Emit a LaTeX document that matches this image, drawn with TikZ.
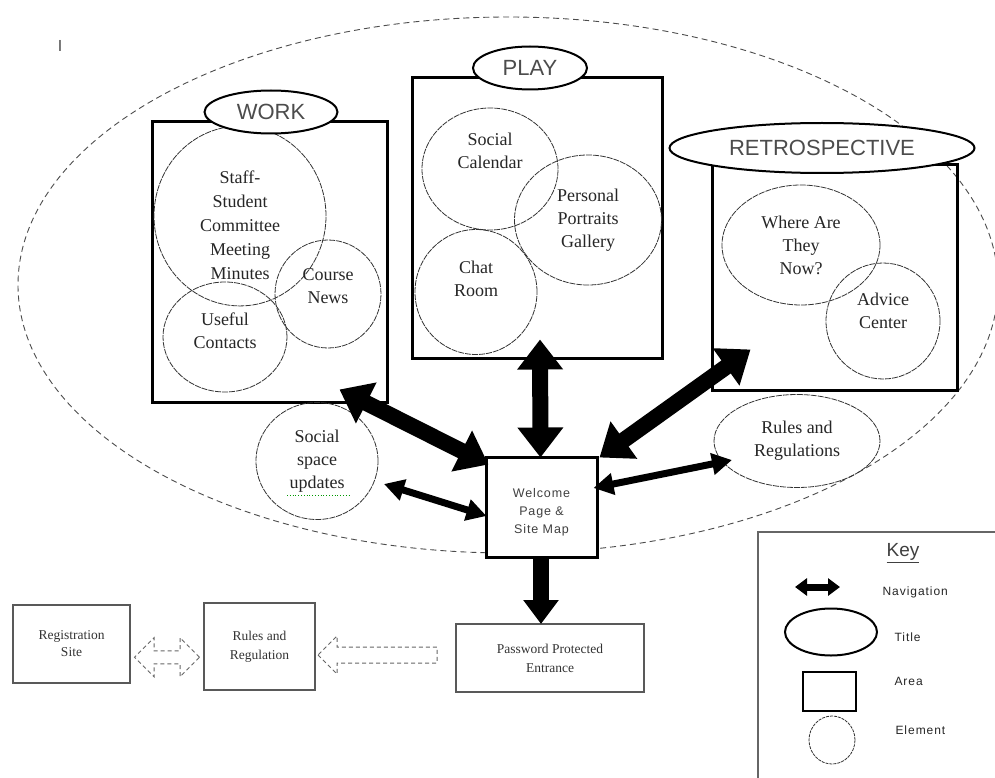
\documentclass[tikz,border=0pt]{standalone}
\usepackage{fontspec}
\setmainfont{Liberation Serif}
\setsansfont{Liberation Sans}
\usetikzlibrary{shapes.geometric,shapes.arrows,arrows.meta,calc}
\begin{document}
\begin{tikzpicture}[x=1pt,y=-1pt,
  area/.style={draw, line width=3pt, inner sep=0pt},
  titl/.style={ellipse, draw, line width=2pt, fill=white, inner sep=0pt, font=\sffamily\fontsize{22}{26}\selectfont, text=black!70},
  elem/.style={ellipse, draw=black!80, line width=0.8pt, dash pattern=on 6pt off 1pt, inner sep=0pt, align=center, text=black!85, font=\fontsize{18}{23}\selectfont},
  bignav/.style={line width=16pt, {Triangle[length=30pt,width=44pt]}-{Triangle[length=30pt,width=44pt]}},
  smallnav/.style={line width=7pt, {Triangle[length=20pt,width=21pt]}-{Triangle[length=20pt,width=21pt]}},
  downnav/.style={line width=16pt, -{Triangle[length=24pt,width=34pt]}},
  lowbox/.style={draw=black!65, line width=1.2pt, inner sep=0pt, align=center, text=black!80, font=\fontsize{13.5}{19}\selectfont},
  hollow/.style={draw=black!60, line width=1pt, dash pattern=on 4pt off 3pt, inner xsep=0pt},
  keylab/.style={anchor=west, font=\sffamily\fontsize{12}{14}\selectfont\addfontfeature{LetterSpace=8}, text=black!85},
]
\useasboundingbox (0,0) rectangle (995,778);
\clip (0,0) rectangle (995,778);
\fill[white] (0,0) rectangle (995,778);

% outer dashed ellipse
\draw[black!70, line width=0.9pt, dash pattern=on 6pt off 4pt] (508,285) ellipse [x radius=490, y radius=268];

\node[font=\sffamily\fontsize{16}{18}\selectfont, text=black!70] (cursor) at (60,46) {I};

% areas
\node[area, minimum width=235pt, minimum height=280pt] (work) at (269.5,262) {};
\node[area, minimum width=250pt, minimum height=280pt] (play) at (537,218) {};
\node[area, minimum width=245pt, minimum height=225pt] (retro) at (834.5,277.5) {};

% elements WORK
\node[elem, minimum width=172pt, minimum height=168pt, font=\fontsize{18}{24}\selectfont] (staff) at (240,216) {\rule{0pt}{31pt}Staff-\\Student\\Committee\\Meeting\\Minutes};
\node[elem, minimum width=106pt, minimum height=108pt] (course) at (328,294) {Course\\News\\[-7pt]};
\node[elem, minimum width=124pt, minimum height=110pt] (useful) at (225,337) {Useful\\Contacts\\[-10pt]};
% elements PLAY
\node[elem, minimum width=136pt, minimum height=122pt] (socialcal) at (490,169) {Social\\Calendar\\[14pt]};
\node[elem, minimum width=147pt, minimum height=130pt] (portraits) at (588,220) {Personal\\Portraits\\Gallery};
\node[elem, minimum width=122pt, minimum height=125pt] (chat) at (476,292) {Chat\\Room\\[4pt]};
% elements RETRO
\node[elem, minimum width=158pt, minimum height=120pt] (where) at (801,245) {Where Are\\They\\Now?};
\node[elem, minimum width=114pt, minimum height=116pt] (advice) at (883,321) {Advice\\Center\\[-2pt]};
% other elements
\node[elem, minimum width=166pt, minimum height=93pt] (rulesel) at (797,441) {Rules and\\Regulations};
\node[elem, minimum width=122pt, minimum height=117pt] (socialspace) at (317,461) {Social\\space\\updates};
\draw[green!60!black, line width=0.8pt, dotted] ($(socialspace.center)+(-30,34)$) -- ($(socialspace.center)+(33,34)$);

% titles
\node[titl, minimum width=133pt, minimum height=43pt] (worktitle) at (271,112) {WORK};
\node[titl, minimum width=114pt, minimum height=43pt] (playtitle) at (530,68) {PLAY};
\node[titl, minimum width=305pt, minimum height=50pt] (retrotitle) at (822,148) {RETROSPECTIVE};

% welcome
\node[area, fill=white, minimum width=111pt, minimum height=100pt, align=center, text=black!75, font=\sffamily\fontsize{12.5}{18}\selectfont\addfontfeature{LetterSpace=7}] (welcome) at (541.5,507) {\rule{0pt}{20pt}Welcome\\Page \&\\Site Map};

% navigation arrows
\draw[bignav] ($(work.south east)+(-49,-14)$) -- ($(welcome.north west)+(4,9)$);
\draw[bignav] ($(play.south)+(3,-20)$) -- ($(welcome.north)+(-1,2)$);
\draw[bignav] ($(retro.south west)+(40,-42)$) -- ($(welcome.north east)+(1,2)$);
\draw[smallnav] ($(socialspace.center)+(67,23)$) -- ($(welcome.west)+(2,9)$);
\draw[smallnav] ($(welcome.east)+(-5,-19)$) -- ($(rulesel.center)+(-65,19)$);

% lower boxes
\node[lowbox, minimum width=188pt, minimum height=68pt] (password) at (550,658) {Password Protected\\Entrance};
\node[lowbox, minimum width=111pt, minimum height=87pt] (rulesreg) at (259.5,646.5) {Rules and\\Regulation};
\node[lowbox, minimum width=117pt, minimum height=78pt, font=\fontsize{13.5}{17}\selectfont] (reg) at (71.5,644) {Registration\\Site};
\draw[downnav] (welcome.south -| 541,0) -- (541,624);

% hollow dashed arrows
\node[hollow, single arrow, shape border rotate=180, minimum height=119pt, inner ysep=7.5pt, single arrow head extend=11pt] (navback) at (381.5,655) {};
\node[hollow, double arrow, minimum height=65pt, inner ysep=6pt, double arrow head extend=13pt] (navreg) at ($(reg.east)!0.5!(rulesreg.west)+(0,12)$) {};

% key
\node[draw=black!60, line width=1.2pt, minimum width=252pt, minimum height=268pt, inner sep=0pt] (keybox) at (884,666) {};
\node[font=\sffamily\fontsize{19}{21}\selectfont, text=black!75] (keytitle) at (903,553) {\underline{Key}};
\coordinate (navL) at (795,587);
\coordinate (navR) at (840,587);
\draw[line width=7pt, {Triangle[length=12pt,width=17pt]}-{Triangle[length=12pt,width=17pt]}] (navL) -- (navR);
\node[keylab] (navlab) at (879,592) {Navigation};
\node[ellipse, draw, line width=2pt, minimum width=92pt, minimum height=47pt, inner sep=0pt] (keyell) at (831,632) {};
\node[keylab] (titlelab) at (891,637) {Title};
\node[draw, line width=2.5pt, minimum width=53pt, minimum height=39pt, inner sep=0pt] (keyrect) at (829.5,691.5) {};
\node[keylab] (arealab) at (891,681) {Area};
\node[ellipse, draw=black!80, line width=0.8pt, dash pattern=on 3pt off 1pt, minimum width=46pt, minimum height=48pt, inner sep=0pt] (keycirc) at (832,740) {};
\node[keylab] (elemlab) at (892,730) {Element};
\end{tikzpicture}
\end{document}
